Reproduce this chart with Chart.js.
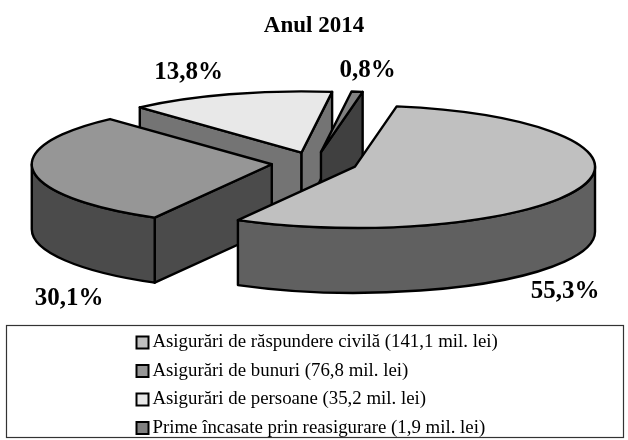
<!DOCTYPE html>
<html>
<head>
<meta charset="utf-8">
<script src="https://cdn.jsdelivr.net/npm/chart.js@4"></script>
<style>html,body{margin:0;padding:0;background:#fff}canvas{display:block}</style>
</head>
<body>
<canvas id="c" width="628" height="440"></canvas>
<script>
const titleText = "Anul 2014";
const categories = [
  "Asigurări de răspundere civilă (141,1 mil. lei)",
  "Asigurări de bunuri (76,8 mil. lei)",
  "Asigurări de persoane (35,2 mil. lei)",
  "Prime încasate prin reasigurare (1,9 mil. lei)"
];
const premiums = [141.1, 76.8, 35.2, 1.9];
const percentLabels = ["55,3%", "30,1%", "13,8%", "0,8%"];
const topColors = ["#c0c0c0", "#969696", "#e8e8e8", "#808080"];
const wallColors = ["#606060", "#4b4b4b", "#747474", "#404040"];

const view = {cx: 314.5, cy: 163, radius: 240, ratio: 0.255, depth: 65, explode: 43, order: [2, 3, 1, 0]};
const labelSpots = [[565, 292], [69, 299], [188.5, 73], [367.5, 71]];
const serif = '"Liberation Serif", "Times New Roman", serif';

function apexOf(arc) {
  const mid = (arc.startAngle + arc.endAngle) / 2;
  return {
    x: view.cx + view.explode * Math.cos(mid),
    y: view.cy + view.explode * Math.sin(mid) * view.ratio
  };
}

const pie3d = {
  id: "pie3d",
  afterLayout(chart) {
    const lg = chart.legend, pad = lg.options.labels.padding;
    lg.left = 142 - pad;
    lg.right = 600;
    lg.top = 333 - pad;
    lg.bottom = 437;
  },
  beforeDatasetDraw(chart, args) {
    const ctx = chart.ctx, meta = args.meta;
    const rx = view.radius, ry = rx * view.ratio, h = view.depth;
    ctx.save();
    ctx.lineWidth = 2.4;
    ctx.strokeStyle = "#000";
    ctx.lineJoin = "round";
    view.order.forEach(i => {
      const arc = meta.data[i], a0 = arc.startAngle, a1 = arc.endAngle;
      const p = apexOf(arc);
      const wall = (a) => {
        const ex = p.x + rx * Math.cos(a), ey = p.y + ry * Math.sin(a);
        ctx.beginPath();
        ctx.moveTo(p.x, p.y);
        ctx.lineTo(ex, ey);
        ctx.lineTo(ex, ey + h);
        ctx.lineTo(p.x, p.y + h);
        ctx.closePath();
        ctx.fillStyle = wallColors[i];
        ctx.fill();
        ctx.stroke();
      };
      if (Math.cos(a0) < 0) wall(a0);
      if (Math.cos(a1) > 0) wall(a1);
      const lo = Math.max(a0, 0), hi = Math.min(a1, Math.PI);
      if (lo < hi) {
        ctx.beginPath();
        ctx.ellipse(p.x, p.y, rx, ry, 0, lo, hi);
        ctx.ellipse(p.x, p.y + h, rx, ry, 0, hi, lo, true);
        ctx.closePath();
        ctx.fillStyle = wallColors[i];
        ctx.fill();
        ctx.stroke();
      }
      ctx.save();
      ctx.translate(p.x, p.y);
      ctx.scale(1, view.ratio);
      ctx.translate(-arc.x, -arc.y);
      arc.draw(ctx);
      ctx.restore();
      ctx.beginPath();
      ctx.moveTo(p.x, p.y);
      ctx.ellipse(p.x, p.y, rx, ry, 0, a0, a1);
      ctx.closePath();
      ctx.stroke();
    });
    ctx.restore();
    return false;
  },
  afterDraw(chart) {
    const ctx = chart.ctx;
    ctx.save();
    ctx.strokeStyle = "#333";
    ctx.lineWidth = 1.2;
    ctx.strokeRect(6.5, 325.5, 617, 112);
    ctx.fillStyle = "#000";
    ctx.font = 'bold 25px ' + serif;
    ctx.textAlign = "center";
    ctx.textBaseline = "middle";
    percentLabels.forEach((t, i) => ctx.fillText(t, labelSpots[i][0], labelSpots[i][1]));
    ctx.restore();
  }
};

new Chart(document.getElementById("c"), {
  type: "pie",
  plugins: [pie3d],
  data: {
    labels: categories,
    datasets: [{data: premiums, backgroundColor: topColors, borderWidth: 0, borderColor: "#000"}]
  },
  options: {
    responsive: false,
    animation: false,
    rotation: 10,
    radius: view.radius,
    plugins: {
      tooltip: {enabled: false},
      title: {
        display: true, text: titleText, color: "#000",
        font: {family: serif, size: 23, weight: "bold"},
        padding: {top: 12, bottom: 10}
      },
      legend: {
        position: "bottom",
        align: "start",
        labels: {
          color: "#000",
          font: {family: serif, size: 18.85},
          padding: 9.65,
          boxWidth: 1,
          boxHeight: 12,
          usePointStyle: true,
          pointStyle: "rect",
          generateLabels(chart) {
            return Chart.overrides.pie.plugins.legend.labels.generateLabels(chart).map(l => {
              l.lineWidth = 2;
              l.strokeStyle = "#000";
              l.pointStyle = "rect";
              return l;
            });
          }
        }
      }
    }
  }
});
</script>
</body>
</html>
